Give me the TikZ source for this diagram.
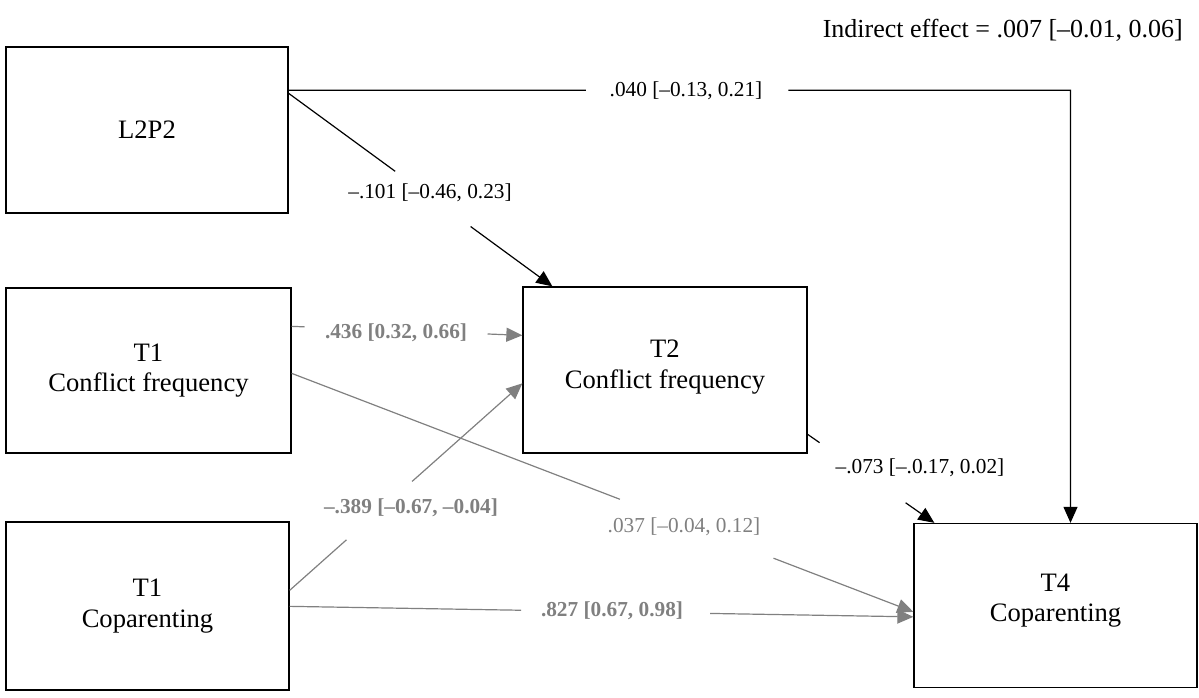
\documentclass[tikz,border=0pt]{standalone}
\usepackage{fontspec}
\setmainfont{Liberation Serif}
\usetikzlibrary{arrows.meta,calc}

\definecolor{pathgray}{RGB}{128,128,128}

\tikzset{
  varbox/.style={draw=black, line width=1.3pt, rectangle, inner sep=0pt,
    align=center, font=\fontsize{26.6}{30.5}\selectfont},
  coef/.style={inner sep=0pt, font=\fontsize{21.3}{25}\selectfont},
  coefsig/.style={coef, text=pathgray, font=\fontsize{21.3}{25}\selectfont\bfseries},
  coefns/.style={coef, text=pathgray},
  blkpath/.style={draw=black, line width=1.2pt},
  graypath/.style={draw=pathgray, line width=1.2pt},
  tipped/.style={-{Triangle[length=16pt,width=14pt]}},
}

\begin{document}
\begin{tikzpicture}[x=1pt, y=-1pt]
\useasboundingbox (0,0) rectangle (1199,698);

% variables
\node[varbox, minimum width=282pt, minimum height=166pt] (l2p2)  at (147,130)    {L2P2};
\node[varbox, minimum width=285pt, minimum height=165pt] (t1cf)  at (148.5,370.5) {T1\\Conflict frequency};
\node[varbox, minimum width=283pt, minimum height=168pt] (t1cop) at (147.5,606)   {T1\\Coparenting};
\node[varbox, minimum width=284pt, minimum height=166pt, text depth=12pt] (t2cf) at (665,370) {T2\\Conflict frequency};
\node[varbox, minimum width=283pt, minimum height=164pt, text depth=16pt] (t4cop) at (1055.5,605.5) {T4\\Coparenting};

% indirect effect
\node[anchor=east, inner sep=0pt, font=\fontsize{26}{30}\selectfont] (ind) at (1183,30)
  {Indirect effect = .007 [–0.01, 0.06]};

% L2P2 -> T4 (direct path, elbow)
\coordinate (a1) at ($(l2p2.north east)+(0,44)$);
\coordinate (b1) at ($(t4cop.north)+(15,0)$);
\coordinate (k1) at (b1 |- a1);
\draw[blkpath] (a1) -- ($(a1)!0.380!(k1)$);
\draw[blkpath, tipped] ($(a1)!0.639!(k1)$) -- (k1) -- (b1);
\node[coef] (lab1) at (686,91) {.040 [–0.13, 0.21]};

% L2P2 -> T2
\coordinate (a2) at ($(l2p2.north east)+(0,47)$);
\coordinate (b2) at ($(t2cf.north west)+(30,0)$);
\draw[blkpath] (a2) -- ($(a2)!0.404!(b2)$);
\draw[blkpath, tipped] ($(a2)!0.69!(b2)$) -- (b2);
\node[coef] (lab2) at (430,193) {–.101 [–0.46, 0.23]};

% T1 conflict -> T2 conflict
\coordinate (a3) at ($(t1cf.north east)+(0,39)$);
\coordinate (b3) at ($(t2cf.north west)+(0,49)$);
\draw[graypath] (a3) -- ($(a3)!0.056!(b3)$);
\draw[graypath, tipped] ($(a3)!0.849!(b3)$) -- (b3);
\node[coefsig] (lab3) at (396,333) {.436 [0.32, 0.66]};

% T1 conflict -> T4 coparenting
\coordinate (a4) at ($(t1cf.north east)+(0,86)$);
\coordinate (b4) at ($(t4cop.north west)+(0,89)$);
\draw[graypath] (a4) -- ($(a4)!0.528!(b4)$);
\draw[graypath, tipped] ($(a4)!0.775!(b4)$) -- (b4);
\node[coefns] (lab4) at (684,527) {.037 [–0.04, 0.12]};

% T1 coparenting -> T2 conflict
\coordinate (a5) at ($(t1cop.north east)+(0,69)$);
\coordinate (b5) at ($(t2cf.north west)+(0,97)$);
\draw[graypath] (a5) -- ($(a5)!0.244!(b5)$);
\draw[graypath, tipped] ($(a5)!0.526!(b5)$) -- (b5);
\node[coefsig] (lab5) at (411,508) {–.389 [–0.67, –0.04]};

% T1 coparenting -> T4 coparenting
\coordinate (a6) at ($(t1cop.north east)+(0,85)$);
\coordinate (b6) at ($(t4cop.north west)+(0,94)$);
\draw[graypath] (a6) -- ($(a6)!0.371!(b6)$);
\draw[graypath, tipped] ($(a6)!0.674!(b6)$) -- (b6);
\node[coefsig] (lab6) at (612,611) {.827 [0.67, 0.98]};

% T2 conflict -> T4 coparenting
\coordinate (a7) at ($(t2cf.north east)+(0,148)$);
\coordinate (b7) at ($(t4cop.north west)+(21,0)$);
\draw[blkpath] (a7) -- ($(a7)!0.094!(b7)$);
\draw[blkpath, tipped] ($(a7)!0.773!(b7)$) -- (b7);
\node[coef] (lab7) at (920,468) {–.073 [–.0.17, 0.02]};

\end{tikzpicture}
\end{document}
